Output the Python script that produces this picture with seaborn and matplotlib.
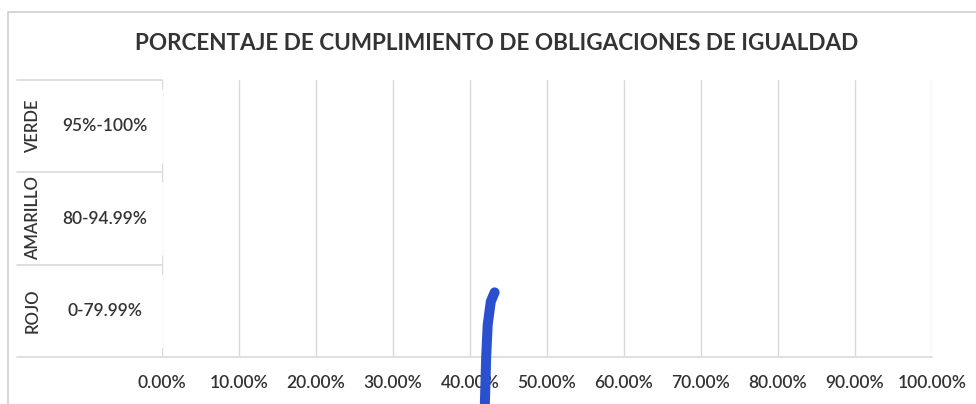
# =========================================================
# Chart: Porcentaje de cumplimiento de obligaciones de igualdad
# =========================================================

import matplotlib
matplotlib.use("Agg")
import matplotlib.pyplot as plt
import matplotlib.patches as mpatches
import matplotlib.transforms as mtransforms
import seaborn as sns
import pandas as pd

# =========================================================
# DATA
# =========================================================

categorias = ["VERDE", "AMARILLO", "ROJO"]
rangos = ["95%-100%", "80-94.99%", "0-79.99%"]
valores = [0, 0, 0]

x_ticks = [0, 10, 20, 30, 40, 50, 60, 70, 80, 90, 100]

# hand-drawn blue pen stroke (x in %, y in category units)
trazo_x = [41.9, 42.1, 42.3, 42.7, 43.2]
trazo_y = [3.1, 2.5, 2.15, 1.9, 1.8]

# =========================================================
# STYLE
# =========================================================

sns.set_style("white")
plt.rcParams["font.family"] = ["Lato", "DejaVu Sans"]

texto = "#333333"
grid_color = "#d9d9d9"

# =========================================================
# FIGURE
# =========================================================

fig = plt.figure(figsize=(9.76, 4.04), dpi=100)
ax = fig.add_axes([162 / 976, 47 / 404, 770 / 976, 277 / 404])

df = pd.DataFrame({"categoria": categorias, "valor": valores})

sns.barplot(
    data=df,
    x="valor",
    y="categoria",
    orient="h",
    color="#4472c4",
    ax=ax
)

ax.set_xlim(0, 100)
ax.set_ylim(2.5, -0.5)

# vertical gridlines
for t in x_ticks:
    ax.axvline(t, color=grid_color, linewidth=1, zorder=0)

# bottom axis line across table + plot
ax.axhline(2.5, xmin=-0.188, xmax=1, color=grid_color, linewidth=1.2, clip_on=False)

# table lines on the left
for yb in [-0.5, 0.5, 1.5]:
    ax.axhline(yb, xmin=-0.188, xmax=0, color=grid_color, linewidth=1.2, clip_on=False)

# table labels
trans = mtransforms.blended_transform_factory(ax.transAxes, ax.transData)
for i, (cat, rng) in enumerate(zip(categorias, rangos)):
    ax.text(-0.168, i, cat, transform=trans, rotation=90,
            ha="center", va="center", fontsize=12, fontweight="semibold", color=texto)
    ax.text(-0.074, i, rng, transform=trans,
            ha="center", va="center", fontsize=12.5, fontweight="semibold", color=texto)

# pen stroke
sns.lineplot(
    x=trazo_x,
    y=trazo_y,
    sort=False,
    color="#2b50cf",
    linewidth=7.2,
    solid_capstyle="round",
    clip_on=False,
    ax=ax
)

# ticks
ax.set_xticks(x_ticks)
ax.set_xticklabels([f"{t:.2f}%" for t in x_ticks], fontsize=12.5,
                   fontweight="semibold", color=texto)
ax.tick_params(axis="x", length=0, pad=13)
ax.set_yticks([])
ax.set_xlabel("")
ax.set_ylabel("")

for s in ax.spines.values():
    s.set_visible(False)

# title
fig.text(497 / 976, 1 - 43 / 404,
         "PORCENTAJE DE CUMPLIMIENTO DE OBLIGACIONES DE IGUALDAD",
         ha="center", va="center", fontsize=16.2, fontweight="bold", color=texto)

# outer chart frame (runs off the right / bottom edge)
frame = mpatches.Rectangle((8 / 976, -0.2), 1.2, 1 - 12 / 404 + 0.2,
                           transform=fig.transFigure, fill=False,
                           edgecolor="#d0d0d0", linewidth=1.2)
fig.patches.append(frame)

plt.savefig("out.png", dpi=100)
plt.close()
